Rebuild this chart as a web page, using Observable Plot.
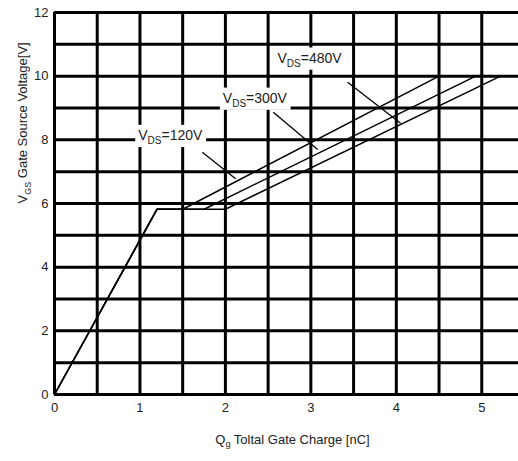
<!DOCTYPE html>
<html>
<head>
<meta charset="utf-8">
<script src="https://cdn.jsdelivr.net/npm/d3@7"></script>
<script src="https://cdn.jsdelivr.net/npm/@observablehq/plot@0.6"></script>
<style>
  body { margin: 0; background: white; }
</style>
</head>
<body>
<div id="chart"></div>
<script>
// ---- data ----
const series = ["120V", "300V", "480V"];
const q120 = [0, 1.2, 1.5, 4.5];
const v120 = [0, 5.82, 5.82, 10];
const q300 = [0, 1.2, 1.75, 4.93];
const v300 = [0, 5.82, 5.82, 10];
const q480 = [0, 1.2, 2.0, 5.22];
const v480 = [0, 5.82, 5.82, 10];

const xGrid = [0, 0.5, 1, 1.5, 2, 2.5, 3, 3.5, 4, 4.5, 5];
const yGrid = [0, 1, 2, 3, 4, 5, 6, 7, 8, 9, 10, 11, 12];
const xTicks = [0, 1, 2, 3, 4, 5];
const yTicks = [0, 2, 4, 6, 8, 10, 12];

// annotation labels (data units)
const labelText = ["V_DS=120V", "V_DS=300V", "V_DS=480V"];
const labelX = [0.98, 1.97, 2.61];
const labelY = [8.14, 9.31, 10.57];
const leadX1 = [1.73, 2.56, 3.43];
const leadY1 = [7.61, 8.87, 9.81];
const leadX2 = [2.12, 3.08, 4.05];
const leadY2 = [6.78, 7.70, 8.52];

const xLabel = "Q_g Toltal Gate Charge [nC]";
const yLabel = "V_GS Gate Source Voltage[V]";

// ---- tables ----
const qs = [q120, q300, q480], vs = [v120, v300, v480];
const rows = series.flatMap((s, i) => qs[i].map((q, j) => ({series: s, q, v: vs[i][j]})));
const labels = labelText.map((t, i) => ({t, x: labelX[i], y: labelY[i]}));
const leaders = labelText.map((t, i) => ({x1: leadX1[i], y1: leadY1[i], x2: leadX2[i], y2: leadY2[i]}));

const chart = Plot.plot({
  width: 518,
  height: 461,
  marginLeft: 54,
  marginRight: 0,
  marginTop: 12,
  marginBottom: 67,
  style: {fontFamily: "'Liberation Sans', Arial, sans-serif", fontSize: "13px", background: "white", color: "#222"},
  x: {domain: [0, 5.43], ticks: xTicks, tickFormat: d3.format("d"), tickSize: 0, tickPadding: 8, label: null},
  y: {domain: [0, 12], ticks: yTicks, tickFormat: d3.format("d"), tickSize: 0, tickPadding: 6, label: null},
  marks: [
    Plot.ruleX(xGrid, {stroke: "black", strokeWidth: 3}),
    Plot.ruleY(yGrid, {stroke: "black", strokeWidth: 3}),
    Plot.line(rows, {x: "q", y: "v", z: "series", stroke: "black", strokeWidth: 1.5}),
    Plot.link(leaders, {x1: "x1", y1: "y1", x2: "x2", y2: "y2", stroke: "black", strokeWidth: 1.3}),
    Plot.text(labels, {x: "x", y: "y", text: "t", textAnchor: "start", fill: "#222", fontSize: 14, className: "vlabel"}),
    Plot.text([xLabel], {frameAnchor: "bottom", dy: 49, dx: 6, text: d => d, fill: "#222", fontSize: 13}),
    Plot.text([yLabel], {frameAnchor: "left", dx: -32, rotate: -90, text: d => d, fill: "#222", fontSize: 13})
  ]
});

document.getElementById("chart").appendChild(chart);

// subscripts: turn "A_BC rest" into A + subscript BC + rest
d3.select(chart).selectAll("text").each(function() {
  const el = d3.select(this);
  const txt = this.textContent;
  const m = txt.match(/^(.*?)_([A-Za-z]+)(.*)$/);
  if (!m) return;
  const fs = parseFloat(getComputedStyle(this).fontSize) || 13;
  el.text(null);
  el.append("tspan").text(m[1]);
  el.append("tspan").attr("font-size", Math.round(fs * 0.68)).attr("dy", fs * 0.3).text(m[2]);
  el.append("tspan").attr("dy", -fs * 0.3).text(m[3]);
});

// white boxes behind annotation labels
d3.select(chart).selectAll("g.vlabel text").each(function() {
  const b = this.getBBox();
  const tr = this.getAttribute("transform");
  const r = document.createElementNS("http://www.w3.org/2000/svg", "rect");
  r.setAttribute("x", b.x - 3);
  r.setAttribute("y", b.y - 2);
  r.setAttribute("width", b.width + 6);
  r.setAttribute("height", b.height + 3);
  r.setAttribute("fill", "white");
  if (tr) r.setAttribute("transform", tr);
  this.parentNode.insertBefore(r, this);
});
</script>
</body>
</html>
